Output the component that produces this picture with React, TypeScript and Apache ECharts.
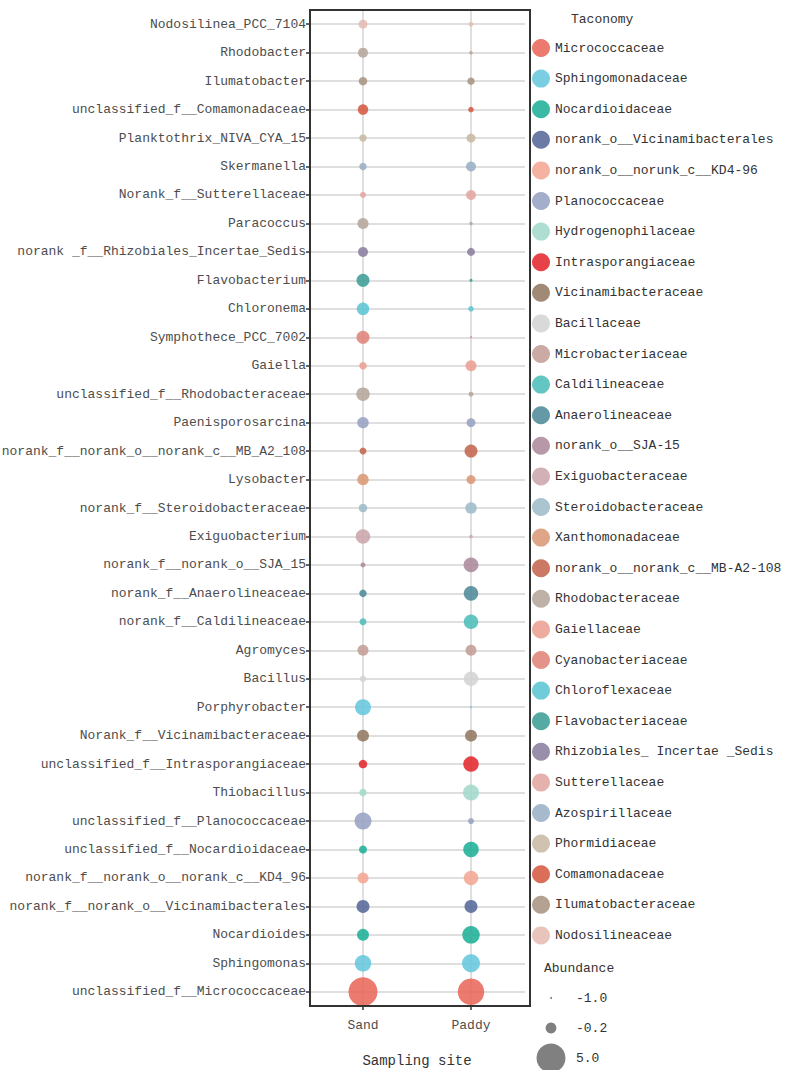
import React, { useEffect, useRef } from "react";
import * as echarts from "echarts";

const sites = ["Sand", "Paddy"];

const genera = [
  "Nodosilinea_PCC_7104",
  "Rhodobacter",
  "Ilumatobacter",
  "unclassified_f__Comamonadaceae",
  "Planktothrix_NIVA_CYA_15",
  "Skermanella",
  "Norank_f__Sutterellaceae",
  "Paracoccus",
  "norank _f__Rhizobiales_Incertae_Sedis",
  "Flavobacterium",
  "Chloronema",
  "Symphothece_PCC_7002",
  "Gaiella",
  "unclassified_f__Rhodobacteraceae",
  "Paenisporosarcina",
  "norank_f__norank_o__norank_c__MB_A2_108",
  "Lysobacter",
  "norank_f__Steroidobacteraceae",
  "Exiguobacterium",
  "norank_f__norank_o__SJA_15",
  "norank_f__Anaerolineaceae",
  "norank_f__Caldilineaceae",
  "Agromyces",
  "Bacillus",
  "Porphyrobacter",
  "Norank_f__Vicinamibacteraceae",
  "unclassified_f__Intrasporangiaceae",
  "Thiobacillus",
  "unclassified_f__Planococcaceae",
  "unclassified_f__Nocardioidaceae",
  "norank_f__norank_o__norank_c__KD4_96",
  "norank_f__norank_o__Vicinamibacterales",
  "Nocardioides",
  "Sphingomonas",
  "unclassified_f__Micrococcaceae",
];

const genusFamily = [
  "Nodosilineaceae",
  "Rhodobacteraceae",
  "Ilumatobacteraceae",
  "Comamonadaceae",
  "Phormidiaceae",
  "Azospirillaceae",
  "Sutterellaceae",
  "Rhodobacteraceae",
  "Rhizobiales_ Incertae _Sedis",
  "Flavobacteriaceae",
  "Chloroflexaceae",
  "Cyanobacteriaceae",
  "Gaiellaceae",
  "Rhodobacteraceae",
  "Planococcaceae",
  "norank_o__norank_c__MB-A2-108",
  "Xanthomonadaceae",
  "Steroidobacteraceae",
  "Exiguobacteraceae",
  "norank_o__SJA-15",
  "Anaerolineaceae",
  "Caldilineaceae",
  "Microbacteriaceae",
  "Bacillaceae",
  "Sphingomonadaceae",
  "Vicinamibacteraceae",
  "Intrasporangiaceae",
  "Hydrogenophilaceae",
  "Planococcaceae",
  "Nocardioidaceae",
  "norank_o__norunk_c__KD4-96",
  "norank_o__Vicinamibacterales",
  "Nocardioidaceae",
  "Sphingomonadaceae",
  "Micrococcaceae",
];

const sandAbundance = [
  -0.45, -0.31, -0.51, -0.24, -0.63, -0.63, -0.77, -0.16, -0.31, 0.18, 0.09, 0.18,
  -0.63, 0.28, -0.08, -0.68, -0.08, -0.51, 0.48, -0.85, -0.63, -0.68, -0.16, -0.73,
  0.81, 0.0, -0.51, -0.63, 1.04, -0.57, -0.16, 0.18, 0.0, 0.92, 5.0,
];

const paddyAbundance = [
  -0.88, -0.94, -0.63, -0.81, -0.45, -0.31, -0.31, -0.94, -0.57, -0.96, -0.81, -1.0,
  -0.16, -0.85, -0.45, 0.18, -0.45, -0.08, -0.94, 0.55, 0.48, 0.48, -0.16, 0.48,
  -1.0, 0.0, 0.69, 0.81, -0.77, 0.69, 0.48, 0.18, 1.17, 1.29, 4.0,
];

const families = [
  "Micrococcaceae",
  "Sphingomonadaceae",
  "Nocardioidaceae",
  "norank_o__Vicinamibacterales",
  "norank_o__norunk_c__KD4-96",
  "Planococcaceae",
  "Hydrogenophilaceae",
  "Intrasporangiaceae",
  "Vicinamibacteraceae",
  "Bacillaceae",
  "Microbacteriaceae",
  "Caldilineaceae",
  "Anaerolineaceae",
  "norank_o__SJA-15",
  "Exiguobacteraceae",
  "Steroidobacteraceae",
  "Xanthomonadaceae",
  "norank_o__norank_c__MB-A2-108",
  "Rhodobacteraceae",
  "Gaiellaceae",
  "Cyanobacteriaceae",
  "Chloroflexaceae",
  "Flavobacteriaceae",
  "Rhizobiales_ Incertae _Sedis",
  "Sutterellaceae",
  "Azospirillaceae",
  "Phormidiaceae",
  "Comamonadaceae",
  "Ilumatobacteraceae",
  "Nodosilineaceae",
];

const familyColors = [
  "#E9685A",
  "#66C8DD",
  "#1FAF98",
  "#57699A",
  "#F4A793",
  "#97A2C3",
  "#A3D9CB",
  "#E3282E",
  "#937A63",
  "#D4D4D4",
  "#C49E96",
  "#4DBEBB",
  "#4E8B99",
  "#AD8A9C",
  "#CCA6AC",
  "#9EBDC8",
  "#DA9A76",
  "#C4664F",
  "#B5A69B",
  "#ECA194",
  "#E0847A",
  "#5CC5D3",
  "#3E9E97",
  "#8C7F9F",
  "#E2A6A0",
  "#9BB1C6",
  "#C8BBA4",
  "#D55A42",
  "#A99482",
  "#E5BCB4",
];

const sizeLegendValues = [-1.0, -0.2, 5.0];
const sizeLegendLabels = ["-1.0", "-0.2", "5.0"];

const FONT = "Liberation Mono";
const ABUND_MIN = -1;
const ABUND_MAX = 5;
const D_MIN = 2;
const D_MAX = 29;

function bubbleSize(v: number): number {
  const t = Math.max(0, Math.min(1, (v - ABUND_MIN) / (ABUND_MAX - ABUND_MIN)));
  return Math.sqrt(D_MIN * D_MIN + t * (D_MAX * D_MAX - D_MIN * D_MIN));
}

export default function App() {
  const ref = useRef<HTMLDivElement>(null);

  useEffect(() => {
    if (!ref.current) return;
    const chart = echarts.init(ref.current, null, { renderer: "svg" });

    const familySeries = families.map((fam, fi) => {
      const data: any[] = [];
      genera.forEach((g, gi) => {
        if (genusFamily[gi] === fam) {
          data.push([sites[0], g, sandAbundance[gi]]);
          data.push([sites[1], g, paddyAbundance[gi]]);
        }
      });
      return {
        name: fam,
        type: "scatter",
        z: 6,
        data,
        symbol: "circle",
        symbolSize: (val: any) => bubbleSize(val[2]),
        itemStyle: { color: familyColors[fi], opacity: 0.88 },
        emphasis: { disabled: true },
      };
    });

    const gridSeries = {
      name: "__grid",
      type: "scatter",
      z: 1,
      silent: true,
      data: [[sites[0], genera[0], 0]],
      symbolSize: 0,
      markLine: {
        silent: true,
        z: 1,
        symbol: "none",
        label: { show: false },
        lineStyle: { color: "#DFDFDF", width: 2, type: "solid" },
        emphasis: { disabled: true },
        data: [
          ...genera.map((g) => ({ yAxis: g })),
          ...sites.map((s) => ({ xAxis: s })),
        ],
      },
    };

    const sizeLegendY = [998, 1028, 1058];

    const graphics: any[] = [
      {
        type: "rect",
        shape: { x: 310, y: 10, width: 220, height: 996 },
        style: { fill: "none", stroke: "#333333", lineWidth: 2 },
        z: 10,
      },
      {
        type: "text",
        x: 571,
        y: 19,
        style: {
          text: "Taconomy",
          font: `13px "${FONT}"`,
          fill: "#333333",
          textVerticalAlign: "middle",
        },
      },
      {
        type: "text",
        x: 544,
        y: 968,
        style: {
          text: "Abundance",
          font: `13px "${FONT}"`,
          fill: "#333333",
          textVerticalAlign: "middle",
        },
      },
      ...sizeLegendValues.map((v, i) => ({
        type: "circle",
        shape: { cx: 551, cy: sizeLegendY[i], r: bubbleSize(v) / 2 },
        style: { fill: "#808080" },
      })),
      ...sizeLegendLabels.map((t, i) => ({
        type: "text",
        x: 576,
        y: sizeLegendY[i],
        style: {
          text: t,
          font: `13px "${FONT}"`,
          fill: "#333333",
          textVerticalAlign: "middle",
        },
      })),
    ];

    chart.setOption({
      animation: false,
      backgroundColor: "#ffffff",
      grid: {
        left: 309,
        top: 10,
        width: 216,
        height: 996,
        containLabel: false,
        outerBoundsMode: "none",
      },
      xAxis: {
        type: "category",
        data: sites,
        boundaryGap: true,
        name: "Sampling site",
        nameLocation: "middle",
        nameGap: 48,
        nameTextStyle: { fontFamily: FONT, fontSize: 14, color: "#333333" },
        axisLine: { show: false },
        axisTick: { show: true, alignWithLabel: true, length: 4, lineStyle: { color: "#333333", width: 1.5 } },
        axisLabel: { fontFamily: FONT, fontSize: 13, color: "#4D4D4D", margin: 13 },
        splitLine: { show: false },
      },
      yAxis: {
        type: "category",
        data: genera,
        inverse: true,
        boundaryGap: true,
        axisLine: { show: false },
        axisTick: { show: true, alignWithLabel: true, length: 3, lineStyle: { color: "#333333", width: 1.5 } },
        axisLabel: { fontFamily: FONT, fontSize: 13, color: "#4D4D4D", margin: 3 },
        splitLine: { show: false },
      },
      legend: {
        orient: "vertical",
        left: 532,
        top: 39,
        icon: "circle",
        itemWidth: 18,
        itemHeight: 18,
        itemGap: 12.6,
        padding: 0,
        selectedMode: false,
        data: families,
        textStyle: { fontFamily: FONT, fontSize: 13, color: "#333333" },
      },
      graphic: graphics,
      series: [gridSeries, ...familySeries],
    });

    return () => chart.dispose();
  }, []);

  return (
    <div
      ref={ref}
      style={{ position: "absolute", left: 0, top: 0, width: 787, height: 1070 }}
    />
  );
}
